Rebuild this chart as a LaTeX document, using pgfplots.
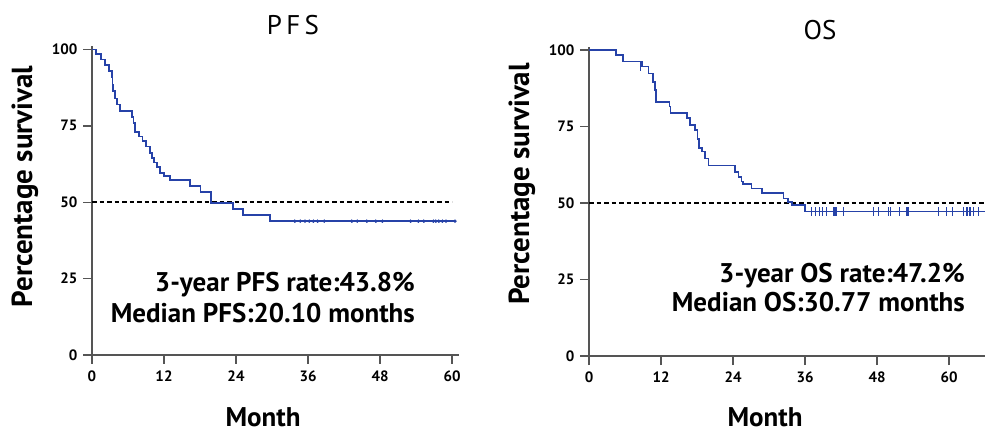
\documentclass[border=0pt]{standalone}
\usepackage{fontspec}
\setmainfont{PT Sans}
\usepackage{pgfplots}
\pgfplotsset{compat=1.18}
\definecolor{kmblue}{RGB}{38,66,168}
\definecolor{axgray}{RGB}{85,85,85}
\pgfplotsset{
  kmaxis/.style={
    scale only axis,
    anchor=south west,
    axis lines*=left,
    xmin=0, ymin=0, ymax=101,
    xtick={0,12,24,36,48,60},
    ytick={0,25,50,75,100},
    axis line style={line width=1.6pt, color=axgray},
    every tick/.style={line width=1.4pt, color=axgray},
    tick align=outside,
    major tick length=9pt,
    /pgf/number format/assume math mode=true,
    tick label style={font=\fontsize{15}{15}\selectfont\bfseries},
    xticklabel style={yshift=-3pt},
    yticklabel style={xshift=-2pt},
    clip=false,
  }
}
\begin{document}
\begin{tikzpicture}[x=1pt,y=1pt]
\useasboundingbox (0,0) rectangle (985,434);
% ---------------- PFS ----------------
\begin{axis}[kmaxis, at={(92pt,79pt)}, width=367.2pt, height=308.6pt, xmax=61.2]
\addplot[black, line width=1.5pt, dash pattern=on 4.5pt off 3pt] coordinates {(0,50) (60,50)};
\addplot[kmblue, line width=1.6pt, const plot] coordinates {
(0,100) (0.7,98.5) (1.5,96.7) (2.2,95.0) (2.8,93.0) (3.3,91.0) (3.4,88.5) (3.5,86.5)
(3.8,84.0) (4.2,82.0) (4.7,79.8) (6.7,77.8) (6.9,76.0) (7.2,73.0) (7.8,71.5) (8.4,70.0)
(9.0,68.2) (9.7,66.1) (10.0,64.5) (10.3,63.0) (10.8,61.5) (11.3,59.6) (12.0,58.5)
(13.0,57.2) (16.3,55.4) (18.1,53.4) (19.8,49.8) (23.5,47.7) (25.2,45.9) (29.7,43.8) (60.5,43.8)};
\addplot[kmblue, only marks, mark=*, mark size=1.5pt] coordinates {
(33.8,43.8) (34.7,43.8) (35.5,43.8) (36.2,43.8) (36.9,43.8) (37.6,43.8) (38.7,43.8)
(43.3,43.8) (44.2,43.8) (45.8,43.8) (47.3,43.8) (48.4,43.8) (53.1,43.8) (54.4,43.8)
(55.3,43.8) (56.9,43.8) (57.3,43.8) (57.8,43.8) (58.4,43.8) (59.0,43.8) (60.5,43.8)};
\end{axis}
% ---------------- OS ----------------
\begin{axis}[kmaxis, at={(589pt,78pt)}, width=399.6pt, height=309pt, xmax=66.6]
\addplot[black, line width=1.5pt, dash pattern=on 4.5pt off 3pt] coordinates {(0,50) (66.6,50)};
\addplot[kmblue, line width=1.6pt, const plot] coordinates {
(0,100) (4.5,98.4) (5.7,96.2) (8.8,94.6) (9.9,92.4) (10.7,89.6) (11.0,86.9) (11.2,83.1)
(13.4,81.5) (13.6,79.5) (16.3,77.7) (16.8,75.5) (17.7,73.9) (18.1,71.0) (18.3,67.9)
(18.8,66.8) (19.3,64.6) (19.9,62.3) (24.3,60.2) (24.9,58.6) (25.4,57.0) (25.7,56.2)
(27.1,54.8) (28.8,53.2) (32.4,51.5) (33.2,50.4) (33.8,49.3) (36.0,47.2) (66.6,47.2)};
\addplot[kmblue, only marks, mark=|, mark size=4.5pt, line width=1.3pt] coordinates {
(8.6,94.6)
(37.1,47.2) (37.8,47.2) (38.4,47.2) (38.9,47.2) (39.6,47.2) (40.7,47.2) (41.0,47.2)
(41.2,47.2) (42.4,47.2) (47.4,47.2) (48.2,47.2) (49.9,47.2) (50.2,47.2) (51.8,47.2)
(53.0,47.2) (53.2,47.2) (58.2,47.2) (59.6,47.2) (60.6,47.2) (62.4,47.2) (63.0,47.2)
(63.5,47.2) (64.1,47.2) (64.9,47.2)};
\end{axis}
% ---------------- texts ----------------
\node[anchor=base, font=\fontsize{27}{27}\selectfont\addfontfeature{LetterSpace=16}] at (293,399) {PFS};
\node[anchor=base, font=\fontsize{27}{27}\selectfont] at (820,394) {OS};
\node[rotate=90, anchor=base, font=\fontsize{29}{29}\selectfont\bfseries] at (32,247.5) {Percentage survival};
\node[rotate=90, anchor=base, font=\fontsize{29}{29}\selectfont\bfseries] at (529,250) {Percentage survival};
\node[anchor=base, font=\fontsize{27}{27}\selectfont\bfseries, inner sep=0pt] at (263,8) {Month};
\node[anchor=base, font=\fontsize{27}{27}\selectfont\bfseries, inner sep=0pt] at (765,8) {Month};
\node[anchor=base east, font=\fontsize{27}{27}\selectfont\bfseries, inner sep=0pt] at (415,142) {3-year PFS rate:43.8\%};
\node[anchor=base east, font=\fontsize{27}{27}\selectfont\bfseries, inner sep=0pt] at (415,111) {Median PFS:20.10 months};
\node[anchor=base east, font=\fontsize{27}{27}\selectfont\bfseries, inner sep=0pt] at (965,151) {3-year OS rate:47.2\%};
\node[anchor=base east, font=\fontsize{27}{27}\selectfont\bfseries, inner sep=0pt] at (965,122) {Median OS:30.77 months};
\end{tikzpicture}
\end{document}
